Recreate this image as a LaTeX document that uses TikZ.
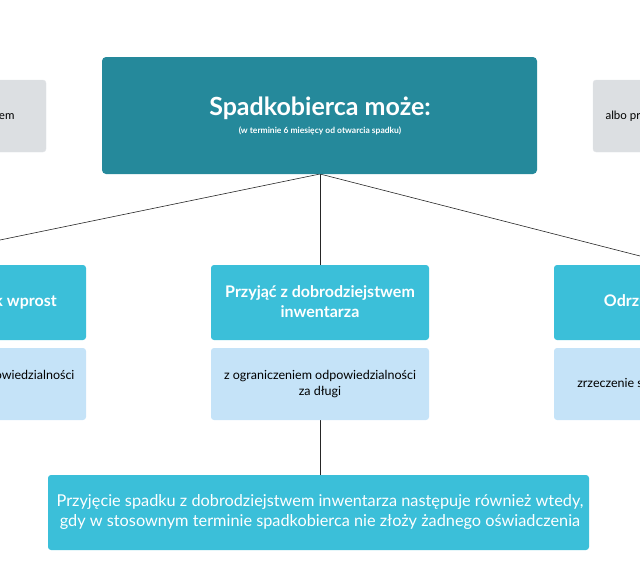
\documentclass[tikz,border=0pt]{standalone}
\usepackage{fontspec}
\setmainfont{Lato}
\begin{document}
\begin{tikzpicture}[x=1pt,y=-1pt,
  top/.style={fill=tealbox,rounded corners=4pt},
  cyan/.style={fill=cyanbox,rounded corners=3pt},
  light/.style={fill=lightbox,rounded corners=3pt},
  gray/.style={fill=graybox,draw=graybox!80!white,rounded corners=3pt},
  ln/.style={draw=black!85,line width=0.6pt}]
\definecolor{tealbox}{HTML}{25899B}
\definecolor{cyanbox}{HTML}{3BBFD9}
\definecolor{lightbox}{HTML}{C5E3F8}
\definecolor{graybox}{HTML}{DCDFE2}
\useasboundingbox (0,0) rectangle (640,570);
\clip (0,0) rectangle (640,570);
% connectors
\coordinate (lend) at (0,240);
\coordinate (rend) at (640,256);
\path[ln] (320,174) -- (lend);
\path[ln] (320,174) -- (rend);
\path[ln] (320,174) -- (320,265);
\path[ln] (320,420) -- (320,475);
% gray side boxes
\path[gray] (-200,80) rectangle (46,152);
\node[anchor=east,font=\fontsize{11.5}{13}\selectfont] (gl) at (18,116) {z dobrodziejstwem};
\path[gray] (593,80) rectangle (840,152);
\node[anchor=west,font=\fontsize{11.5}{13}\selectfont] (gr) at (602,116) {albo przyjąć spadek};
% top
\path[top] (102,57) rectangle (537,174);
\node[text=white,font=\bfseries\fontsize{25}{28}\selectfont] (t) at (320,108) {Spadkobierca może:};
\node[text=white,font=\bfseries\fontsize{8.5}{10}\selectfont] (ts) at (320,131) {(w terminie 6 miesięcy od otwarcia spadku)};
% children
\path[cyan] (-132,265) rectangle (86,340);
\path[cyan] (211,265) rectangle (429,340);
\path[cyan] (554,265) rectangle (772,340);
\node[text=white,font=\bfseries\fontsize{16}{20}\selectfont,align=center] (c1) at (-23,302) {Przyjąć spadek wprost};
\node[text=white,font=\bfseries\fontsize{16}{20}\selectfont,align=center] (c2) at (320,302) {Przyjąć z dobrodziejstwem\\inwentarza};
\node[text=white,font=\bfseries\fontsize{16}{20}\selectfont,align=center] (c3) at (663,302) {Odrzucić spadek};
\path[light] (-132,348) rectangle (86,420);
\path[light] (211,348) rectangle (429,420);
\path[light] (554,348) rectangle (772,420);
\node[font=\fontsize{12.5}{16}\selectfont,align=center] (l1) at (-23,384) {bez ograniczenia odpowiedzialności\\za długi};
\node[font=\fontsize{12.5}{16}\selectfont,align=center] (l2) at (320,384) {z ograniczeniem odpowiedzialności\\za długi};
\node[font=\fontsize{12.5}{16}\selectfont,align=center] (l3) at (663,384) {zrzeczenie się prawa do spadku};
% bottom
\path[cyan] (48,475) rectangle (589,550);
\node[text=white,font=\fontsize{16.3}{20}\selectfont,align=center] (b) at (320,512) {Przyjęcie spadku z dobrodziejstwem inwentarza następuje również wtedy,\\gdy w stosownym terminie spadkobierca nie złoży żadnego oświadczenia};
\end{tikzpicture}
\end{document}
